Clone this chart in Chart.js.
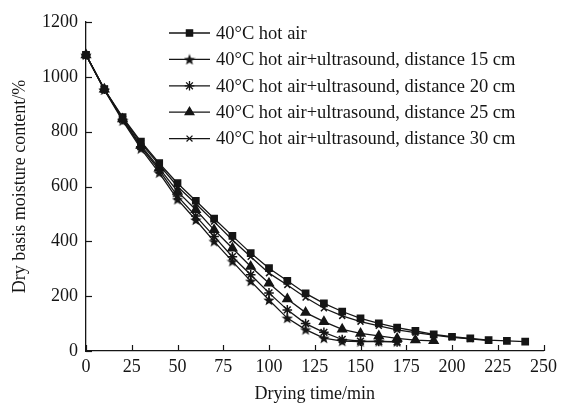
<!DOCTYPE html>
<html>
<head>
<meta charset="utf-8">
<script src="https://cdn.jsdelivr.net/npm/chart.js@4/dist/chart.umd.min.js"></script>
<style>
  html, body { margin: 0; padding: 0; background: #fff; }
  #wrap { width: 562px; height: 405px; }
</style>
</head>
<body>
<div id="wrap"><canvas id="c"></canvas></div>
<script>
// drying time (min), one sample every 10 min
const times = [0, 10, 20, 30, 40, 50, 60, 70, 80, 90, 100, 110, 120, 130, 140, 150, 160, 170, 180, 190, 200, 210, 220, 230, 240];

const hotAir   = [1080, 955, 853, 764, 685, 612, 548, 483, 420, 357, 302, 256, 210, 174, 144, 119, 101, 85, 73, 61, 52, 46, 40, 37, 34];
const dist15cm = [1080, 952, 840, 738, 650, 553, 478, 400, 327, 255, 186, 120, 78, 47, 36, 34, 35, 34];
const dist20cm = [1080, 955, 845, 745, 660, 565, 492, 418, 344, 278, 212, 150, 100, 68, 42, 36, 35, 33];
const dist25cm = [1080, 955, 846, 750, 667, 582, 515, 442, 375, 308, 247, 190, 140, 107, 79, 64, 55, 46, 40, 37];
const dist30cm = [1080, 953, 850, 758, 679, 600, 537, 472, 405, 344, 284, 241, 195, 156, 128, 107, 92, 77, 67, 58, 50, 44, 38];

const labels = [
  '40°C hot air',
  '40°C hot air+ultrasound, distance 15 cm',
  '40°C hot air+ultrasound, distance 20 cm',
  '40°C hot air+ultrasound, distance 25 cm',
  '40°C hot air+ultrasound, distance 30 cm'
];

const xTicks = [0, 25, 50, 75, 100, 125, 150, 175, 200, 225, 250];
const yTicks = [0, 200, 400, 600, 800, 1000, 1200];

const INK = '#151515';
const FONT = '"Liberation Serif", "Times New Roman", serif';

// five-pointed filled star, chart.js has no such point style
function makeStar(size) {
  const cv = document.createElement('canvas');
  cv.width = size; cv.height = size;
  const g = cv.getContext('2d');
  const cx = size / 2, cy = size / 2 + 0.5, R = size / 2, r = R * 0.42;
  g.beginPath();
  for (let i = 0; i < 10; i++) {
    const a = -Math.PI / 2 + i * Math.PI / 5;
    const rad = i % 2 === 0 ? R : r;
    g.lineTo(cx + rad * Math.cos(a), cy + rad * Math.sin(a));
  }
  g.closePath();
  g.fillStyle = INK;
  g.fill();
  return cv;
}
const starImg = makeStar(12);

function pts(vals) {
  return vals.map((v, i) => ({ x: times[i], y: v }));
}

const series = [hotAir, dist15cm, dist20cm, dist25cm, dist30cm];
const styles = [
  { pointStyle: 'rect', pointRadius: 4.4 },
  { pointStyle: starImg, pointRadius: 5 },
  { pointStyle: 'star', pointRadius: 4.8 },
  { pointStyle: 'triangle', pointRadius: 5 },
  { pointStyle: 'crossRot', pointRadius: 4.2 }
];

const datasets = series.map((vals, i) => ({
  label: labels[i],
  data: pts(vals),
  borderColor: INK,
  backgroundColor: INK,
  borderWidth: 1.3,
  pointBorderWidth: 1.5,
  pointBorderColor: INK,
  pointBackgroundColor: INK,
  pointStyle: styles[i].pointStyle,
  pointRadius: styles[i].pointRadius,
  tension: 0,
  clip: false
}));

// ticks pointing into the plot, like the original figure
const innerTicks = {
  id: 'innerTicks',
  afterDraw(chart) {
    const { ctx, chartArea, scales } = chart;
    ctx.save();
    ctx.strokeStyle = INK;
    ctx.lineWidth = 1.2;
    xTicks.forEach(t => {
      const x = Math.round(scales.x.getPixelForValue(t)) + 0.5;
      ctx.beginPath();
      ctx.moveTo(x, chartArea.bottom);
      ctx.lineTo(x, chartArea.bottom - 6);
      ctx.stroke();
    });
    yTicks.forEach(t => {
      const y = Math.round(scales.y.getPixelForValue(t)) + 0.5;
      ctx.beginPath();
      ctx.moveTo(chartArea.left, y);
      ctx.lineTo(chartArea.left + 6, y);
      ctx.stroke();
    });
    ctx.restore();
  }
};

// legend drawn inside the plot area
const innerLegend = {
  id: 'innerLegend',
  afterDraw(chart) {
    const { ctx } = chart;
    const x0 = 169, x1 = 210, tx = 216, y0 = 33, dy = 26.4;
    ctx.save();
    ctx.font = '18.5px ' + FONT;
    ctx.fillStyle = INK;
    ctx.textBaseline = 'middle';
    chart.data.datasets.forEach((ds, i) => {
      const y = y0 + i * dy;
      ctx.strokeStyle = INK;
      ctx.lineWidth = 1.3;
      ctx.beginPath();
      ctx.moveTo(x0, y);
      ctx.lineTo(x1, y);
      ctx.stroke();
      Chart.helpers.drawPoint(ctx, {
        pointStyle: ds.pointStyle,
        radius: ds.pointRadius,
        borderWidth: ds.pointBorderWidth,
        rotation: 0
      }, (x0 + x1) / 2, y);
      ctx.fillStyle = INK;
      ctx.fillText(ds.label, tx, y + 1);
    });
    ctx.restore();
  }
};

new Chart(document.getElementById('c'), {
  type: 'line',
  data: { datasets: datasets },
  plugins: [innerTicks, innerLegend],
  options: {
    responsive: true,
    maintainAspectRatio: false,
    animation: false,
    layout: { padding: { top: 22, right: 13, left: 0, bottom: 0 } },
    plugins: {
      legend: { display: false },
      tooltip: { enabled: false }
    },
    scales: {
      x: {
        type: 'linear',
        min: 0,
        max: 250,
        afterBuildTicks(scale) { scale.ticks = xTicks.map(v => ({ value: v })); },
        afterFit(scale) { scale.height = 54; },
        grid: { drawOnChartArea: false, drawTicks: false },
        border: { display: true, color: INK, width: 1.3 },
        ticks: { color: INK, font: { family: FONT, size: 18 }, padding: 5, maxRotation: 0, autoSkip: false,
                 callback: v => String(v) },
        title: { display: true, text: 'Drying time/min', color: INK, font: { family: FONT, size: 18 }, padding: { top: 0, bottom: 0 } }
      },
      y: {
        min: 0,
        max: 1200,
        afterBuildTicks(scale) { scale.ticks = yTicks.map(v => ({ value: v })); },
        afterFit(scale) { scale.width = 86; },
        grid: { drawOnChartArea: false, drawTicks: false },
        border: { display: true, color: INK, width: 1.3 },
        ticks: { color: INK, font: { family: FONT, size: 18 }, padding: 8, callback: v => String(v) },
        title: { display: true, text: 'Dry basis moisture content/%', color: INK, font: { family: FONT, size: 18 }, padding: { top: 9, bottom: 4 } }
      }
    }
  }
});
</script>
</body>
</html>
